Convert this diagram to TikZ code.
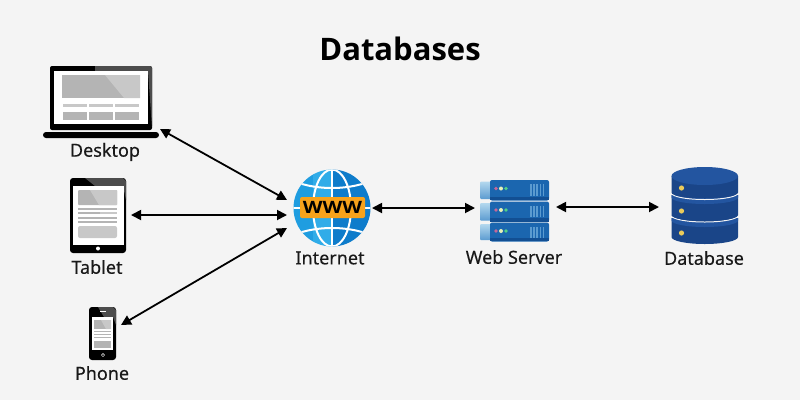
\documentclass[tikz,border=0pt]{standalone}
\usepackage{fontspec}
\setmainfont{Noto Sans}[FakeBold=0.25]
\newfontfamily\ttlfont{Open Sans}[BoldFont={Open Sans Bold}]
\usetikzlibrary{arrows.meta}
\definecolor{bgc}{HTML}{F4F4F4}
\definecolor{g1}{HTML}{B4B4B4}
\definecolor{g2}{HTML}{C8C8C8}
\definecolor{gbl}{HTML}{1F9DE0}
\definecolor{gbm}{HTML}{30ACE8}
\definecolor{gbd}{HTML}{0E7CCB}
\definecolor{orng}{HTML}{F7A21B}
\definecolor{srv}{HTML}{1B66AF}
\definecolor{srvd}{HTML}{124F93}
\definecolor{srvl}{HTML}{B4D8EE}
\definecolor{srvm}{HTML}{5B9BD0}
\definecolor{dbc}{HTML}{1A4588}
\definecolor{dbt}{HTML}{2355A0}
\definecolor{ylw}{HTML}{EBCB5A}
\definecolor{pnk}{HTML}{C4689A}
\definecolor{ltg}{HTML}{E6F0B8}
\definecolor{grn}{HTML}{50D088}
\tikzset{
  icon/.style={inner sep=0pt,outer sep=0pt,draw=none,fill=none},
  lbl/.style={inner sep=0pt,font=\fontsize{18}{20}\selectfont,text=black!90},
  link/.style={draw=black,line width=1.8pt,{Triangle[length=10pt,width=10pt]}-{Triangle[length=10pt,width=10pt]}},
}
\begin{document}
\begin{tikzpicture}[x=1pt,y=-1pt]
\useasboundingbox (0,0) rectangle (800,400);
\fill[bgc] (0,0) rectangle (800,400);
\node[inner sep=0pt,font=\fontsize{31}{36}\selectfont\ttlfont\bfseries] (title) at (400,49) {Databases};

% Desktop icon
\fill[black,rounded corners=2pt] (50,66) rectangle (152,130);
\fill[black!70] (95,66) -- (150,66) [rounded corners=2pt] -- (152,66) -- (152,128) [sharp corners] -- (148,71) -- (95,71) -- cycle;
\fill[white] (54,71) rectangle (148,124);
\fill[g1] (62,75) rectangle (140,98);
\fill[g2] (105,75) -- (140,75) -- (140,98) -- (124,98) -- cycle;
\foreach \a/\b in {63/87,89/113,115/139}{
  \fill[g2] (\a,104) rectangle (\b,107);
  \fill[g1] (\a,112) rectangle (\b,120);
}
\fill[black,rounded corners=3pt] (43,132) rectangle (159,138);
\node[icon,minimum width=116pt,minimum height=72pt] (desktop) at (101,102) {};
\node[lbl] (desktoplbl) at (105,152) {Desktop};

% Tablet icon
\fill[black,rounded corners=3pt] (70,178) rectangle (126,253);
\fill[black!70] (85,178) -- (123,178) -- (126,181) -- (126,200) -- (123,186) -- (95,186) -- cycle;
\fill[white] (73,186) rectangle (124,245);
\fill[g1,rounded corners=1pt] (78,190) rectangle (117,205);
\fill[g2] (90,190) -- (117,190) -- (117,205) -- (99,205) -- cycle;
\fill[g1] (78,208) rectangle (117,210);
\fill[g1] (78,212) rectangle (100,214);
\fill[g2] (100,212) rectangle (117,214);
\fill[g1] (78,217) rectangle (117,219);
\fill[g1] (78,221) rectangle (117,223);
\fill[g2,rounded corners=2pt] (78,226) rectangle (117,238);
\fill[white] (98,248.5) circle (2pt);
\node[icon,minimum width=56pt,minimum height=75pt] (tablet) at (98,215.5) {};
\node[lbl] (tabletlbl) at (97,267) {Tablet};

% Phone icon
\fill[black,rounded corners=3pt] (89,307) rectangle (116,360);
\fill[black!70] (98,307) -- (113,307) -- (116,310) -- (116,325) -- (113,317) -- (104,317) -- cycle;
\fill[white] (92,317) rectangle (113,350);
\fill[g1] (94,320) rectangle (111,329);
\fill[g2] (101,320) -- (111,320) -- (111,329) -- (106,329) -- cycle;
\foreach \y in {331,334,337}{\fill[g1] (94,\y) rectangle (111,\y+1.2);}
\fill[g1] (94,341) rectangle (111,348);
\fill[white] (100,311) rectangle (106,312);
\draw[white,line width=.5pt] (103,355) circle (1.6pt);
\node[icon,minimum width=27pt,minimum height=53pt] (phone) at (102.5,333.5) {};
\node[lbl] (phonelbl) at (102,373) {Phone};

% Globe icon
\begin{scope}
  \clip (332,208) circle (38.5pt);
  \fill[gbl] (290,166) rectangle (313,250);
  \fill[gbm] (313,166) rectangle (332,250);
  \fill[gbd] (332,166) rectangle (375,250);
  \draw[white,line width=2pt] (332,165) -- (332,250);
  \draw[white,line width=2pt] (290,208) -- (375,208);
  \draw[white,line width=2pt] (332,208) ellipse (19pt and 38.5pt);
  \draw[white,line width=2pt] (332,158) ellipse (60pt and 30pt);
  \draw[white,line width=2pt] (332,258) ellipse (60pt and 30pt);
\end{scope}
\fill[orng,rounded corners=2pt] (300,197) rectangle (365,218);
\node[inner sep=0pt,xscale=1.2,font=\fontsize{17}{20}\selectfont\ttlfont\bfseries] (www) at (332.5,207) {WWW};
\node[icon,minimum width=77pt,minimum height=77pt] (internet) at (332,208) {};
\node[lbl] (internetlbl) at (330,258) {Internet};

% Web server icon
\foreach \t/\b in {180/200.5,201.5/222,222.5/241.5}{
  \shade[top color=srvl,bottom color=srvm,rounded corners=1pt] (480,\t+1.5) rectangle (492,\b-1.5);
  \fill[srv,rounded corners=2pt] (490,\t) rectangle (549,\b);
  \fill[srvd] (490,\b-4) rectangle (549,\b-.3);
  \fill[pnk] (496,\t+8.5) circle (1.8pt);
  \fill[ltg] (501,\t+8.5) circle (2pt);
  \fill[grn] (506,\t+8.5) circle (1.8pt);
  \foreach \v in {530,533.2,536.4,539.6,542.8}{\fill[srvm] (\v,\t+4) rectangle (\v+1.6,\t+15.5);}
}
\node[icon,minimum width=69pt,minimum height=62pt] (server) at (514.5,211) {};
\node[lbl] (serverlbl) at (514,257) {Web Server};

% Database icon
\foreach \s/\e/\dy in {218/237/233,195/215/211}{
  \fill[dbc] (671.5,\s) -- (671.5,\e) arc[start angle=180,end angle=360,x radius=33.25pt,y radius=7pt] -- (738,\s) -- cycle;
  \fill[dbt] (671.5,\s) -- (671.5,\s+2.5) arc[start angle=180,end angle=360,x radius=33.25pt,y radius=6.5pt] -- (738,\s) -- cycle;
  \fill[ylw] (681.5,\dy) circle (2.6pt);
}
\foreach \e in {215,192.5}{
  \draw[bgc,line width=1pt] (671.5,\e+.5) arc[start angle=180,end angle=360,x radius=33.25pt,y radius=6.5pt];
}
\fill[dbc] (671.5,176) -- (671.5,192.5) arc[start angle=180,end angle=360,x radius=33.25pt,y radius=6pt] -- (738,176) -- cycle;
\fill[dbc] (671.5,215) arc[start angle=180,end angle=360,x radius=33.25pt,y radius=6pt] -- cycle;
\fill[dbt] (704.75,176) ellipse (33.25pt and 9pt);
\fill[ylw] (681.5,188) circle (2.6pt);
\node[icon,minimum width=66pt,minimum height=77pt] (database) at (705,205.5) {};
\node[lbl] (databaselbl) at (704,258) {Database};

% Connector ends
\coordinate (dport) at (160,129);
\coordinate (tport) at (131,215);
\coordinate (pport) at (121,325);
\coordinate (ia) at (287,200);
\coordinate (ib) at (287,215);
\coordinate (ic) at (287,228);
\coordinate (id) at (372,208);
\coordinate (sa) at (475,208);
\coordinate (sb) at (556,207);
\coordinate (da) at (659,207);

\draw[link] (dport) -- (ia);
\draw[link] (tport) -- (ib);
\draw[link] (pport) -- (ic);
\draw[link] (id) -- (sa);
\draw[link] (sb) -- (da);
\end{tikzpicture}
\end{document}
